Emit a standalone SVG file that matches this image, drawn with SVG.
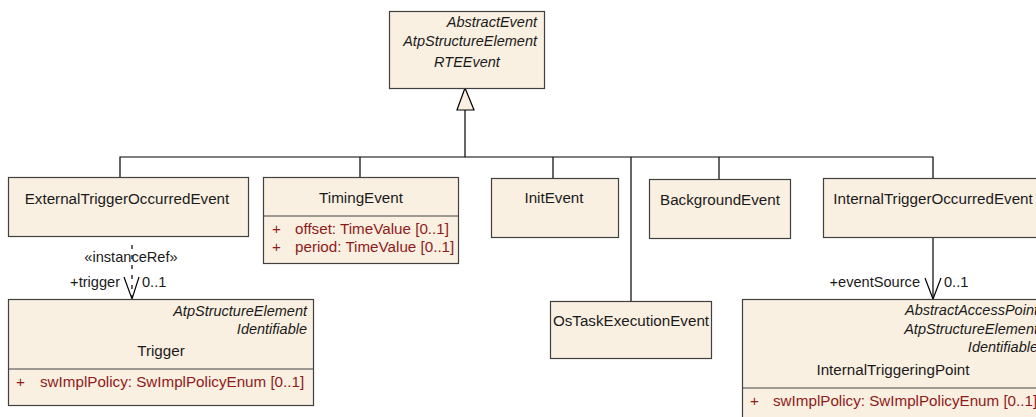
<svg xmlns="http://www.w3.org/2000/svg" width="1036" height="417" viewBox="0 0 1036 417">
<style>
.box{fill:#FAF0E2;stroke:#404040;stroke-width:1.2}
.ln{stroke:#000;stroke-width:1.2;fill:none}
text{font-family:"Liberation Sans",Arial,sans-serif;font-size:15.2px;fill:#1a1a1a}
.it{font-style:italic;font-size:14.5px}
.c{text-anchor:middle}
.r{text-anchor:end}
.attr{fill:#8E1B1B}
.lbl{font-size:14.6px}
</style>
<rect width="1036" height="417" fill="#fff"/>
<g id="connectors">
<path class="ln" d="M120,177 V157 H933 V178"/>
<path class="ln" d="M360,157 V178"/>
<path class="ln" d="M553,157 V178"/>
<path class="ln" d="M631,157 V301"/>
<path class="ln" d="M719,157 V179"/>
<path class="ln" d="M465,110 V157"/>
<polygon points="465,88 457,110 474,110" fill="#FAF0E2" stroke="#000" stroke-width="1.2"/>
<path class="ln" d="M132,245 V298" stroke-dasharray="4,6"/>
<path class="ln" d="M124,277 L132,299 L139,277"/>
<text class="lbl c" x="131" y="262">«instanceRef»</text>
<text class="lbl r" x="120" y="287">+trigger</text>
<text class="lbl" x="142" y="287">0..1</text>
<path class="ln" d="M933,237 V299"/>
<path class="ln" d="M925,278 L933,299 L941,278"/>
<text class="lbl r" x="920" y="287">+eventSource</text>
<text class="lbl" x="944" y="287">0..1</text>
</g>
<g id="RTEEvent">
<rect class="box" x="389.5" y="11.5" width="155" height="77"/>
<text class="it r" x="537" y="27">AbstractEvent</text>
<text class="it r" x="537" y="46">AtpStructureElement</text>
<text class="it c" x="467" y="67">RTEEvent</text>
</g>
<g id="ExternalTriggerOccurredEvent">
<rect class="box" x="8.5" y="177.5" width="240" height="59"/>
<text class="c" x="127" y="204">ExternalTriggerOccurredEvent</text>
</g>
<g id="TimingEvent">
<rect class="box" x="263.5" y="177.5" width="195" height="86"/>
<line x1="263.5" y1="216" x2="458.5" y2="216" stroke="#404040" stroke-width="1.2"/>
<text class="c" x="361" y="203">TimingEvent</text>
<text class="attr" x="272" y="234">+</text>
<text class="attr" x="295" y="234">offset: TimeValue [0..1]</text>
<text class="attr" x="272" y="252">+</text>
<text class="attr" x="295" y="252">period: TimeValue [0..1]</text>
</g>
<g id="InitEvent">
<rect class="box" x="491.5" y="178.5" width="127" height="59"/>
<text class="c" x="554" y="203">InitEvent</text>
</g>
<g id="BackgroundEvent">
<rect class="box" x="649.5" y="179.5" width="141" height="59"/>
<text class="c" x="720" y="205">BackgroundEvent</text>
</g>
<g id="InternalTriggerOccurredEvent">
<rect class="box" x="823.5" y="178.5" width="220" height="59"/>
<text class="c" x="933" y="204">InternalTriggerOccurredEvent</text>
</g>
<g id="OsTaskExecutionEvent">
<rect class="box" x="550.5" y="301.5" width="161" height="57"/>
<text class="c" x="631" y="326">OsTaskExecutionEvent</text>
</g>
<g id="Trigger">
<rect class="box" x="8.5" y="299.5" width="305" height="106"/>
<line x1="8.5" y1="369" x2="313.5" y2="369" stroke="#404040" stroke-width="1.2"/>
<text class="it r" x="307" y="316">AtpStructureElement</text>
<text class="it r" x="307" y="334">Identifiable</text>
<text class="c" x="161" y="356">Trigger</text>
<text class="attr" x="16" y="387">+</text>
<text class="attr" x="40" y="387">swImplPolicy: SwImplPolicyEnum [0..1]</text>
</g>
<g id="InternalTriggeringPoint">
<rect class="box" x="742.5" y="299.5" width="302" height="125"/>
<line x1="742.5" y1="388" x2="1044" y2="388" stroke="#404040" stroke-width="1.2"/>
<text class="it r" x="1038" y="315">AbstractAccessPoint</text>
<text class="it r" x="1038" y="334">AtpStructureElement</text>
<text class="it r" x="1038" y="352">Identifiable</text>
<text class="c" x="893" y="375">InternalTriggeringPoint</text>
<text class="attr" x="750" y="406">+</text>
<text class="attr" x="773" y="406">swImplPolicy: SwImplPolicyEnum [0..1]</text>
</g>
</svg>
